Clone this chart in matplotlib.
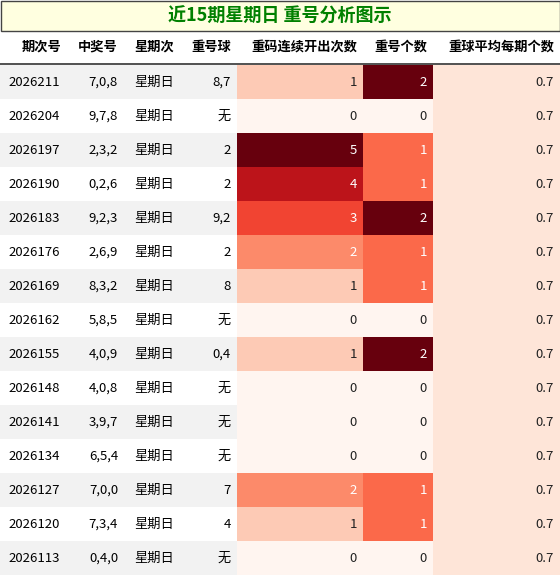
import matplotlib
matplotlib.use("Agg")
import matplotlib.pyplot as plt
from matplotlib.patches import Rectangle
from matplotlib import cm, colors

plt.rcParams['font.family'] = ['Noto Sans CJK SC', 'DejaVu Sans']

title = "近15期星期日 重号分析图示"
headers = ["期次号", "中奖号", "星期次", "重号球", "重码连续开出次数", "重号个数", "重球平均每期个数"]
issues = ["2026211","2026204","2026197","2026190","2026183","2026176","2026169","2026162",
          "2026155","2026148","2026141","2026134","2026127","2026120","2026113"]
numbers = ["7,0,8","9,7,8","2,3,2","0,2,6","9,2,3","2,6,9","8,3,2","5,8,5",
           "4,0,9","4,0,8","3,9,7","6,5,4","7,0,0","7,3,4","0,4,0"]
weekday = ["星期日"] * 15
repeat_balls = ["8,7","无","2","2","9,2","2","8","无","0,4","无","无","无","7","4","无"]
streak = [1,0,5,4,3,2,1,0,1,0,0,0,2,1,0]
repeat_count = [2,0,1,1,2,1,1,0,2,0,0,0,1,1,0]
avg = [0.7] * 15

W, H = 560, 576
fig = plt.figure(figsize=(W/100, H/100), dpi=100)
ax = fig.add_axes([0, 0, 1, 1])
ax.set_xlim(0, W); ax.set_ylim(H, 0); ax.axis('off')

# title
ax.add_patch(Rectangle((0.5, 0.5), W-1, 30, facecolor='#ffffe0', edgecolor='#444444', lw=1))
ax.text(W/2, 16, title, ha='center', va='center', color='#008000', fontsize=13, fontweight='bold')

edges = [0, 72, 124, 180, 237, 363, 433, 560]
hy = 47
for i, h in enumerate(headers):
    ax.text(edges[i+1]-6 if i else 42, hy, h, ha='right' if i else 'center', va='center',
            fontsize=9.5, fontweight='bold')
ax.plot([0, W], [64, 64], color='#333333', lw=1.2)

cmap = cm.get_cmap('Reds')
top, rh = 65, 34
for r in range(15):
    y = top + r*rh
    bg = '#f2f2f2' if r % 2 == 0 else 'white'
    ax.add_patch(Rectangle((0, y), edges[4], rh, facecolor=bg, lw=0))
    vals = [issues[r], numbers[r], weekday[r], repeat_balls[r]]
    for c, v in enumerate(vals):
        if c == 0:
            ax.text(8, y+rh/2, v, ha='left', va='center', fontsize=9.5)
        else:
            ax.text(edges[c+1]-6, y+rh/2, v, ha='right', va='center', fontsize=9.5)
    heat = [(streak[r], 5, "%d"), (repeat_count[r], 2, "%d"), (avg[r], 7.0, "%.1f")]
    for k, (v, vmax, fmt) in enumerate(heat):
        c = 4 + k
        n = v / vmax
        col = cmap(n)
        ax.add_patch(Rectangle((edges[c], y), edges[c+1]-edges[c], rh, facecolor=col, lw=0))
        tc = 'white' if n >= 0.35 else '#222222'
        ax.text(edges[c+1]-6, y+rh/2, fmt % v, ha='right', va='center', fontsize=9.5, color=tc)

fig.savefig("out.png", dpi=100)
